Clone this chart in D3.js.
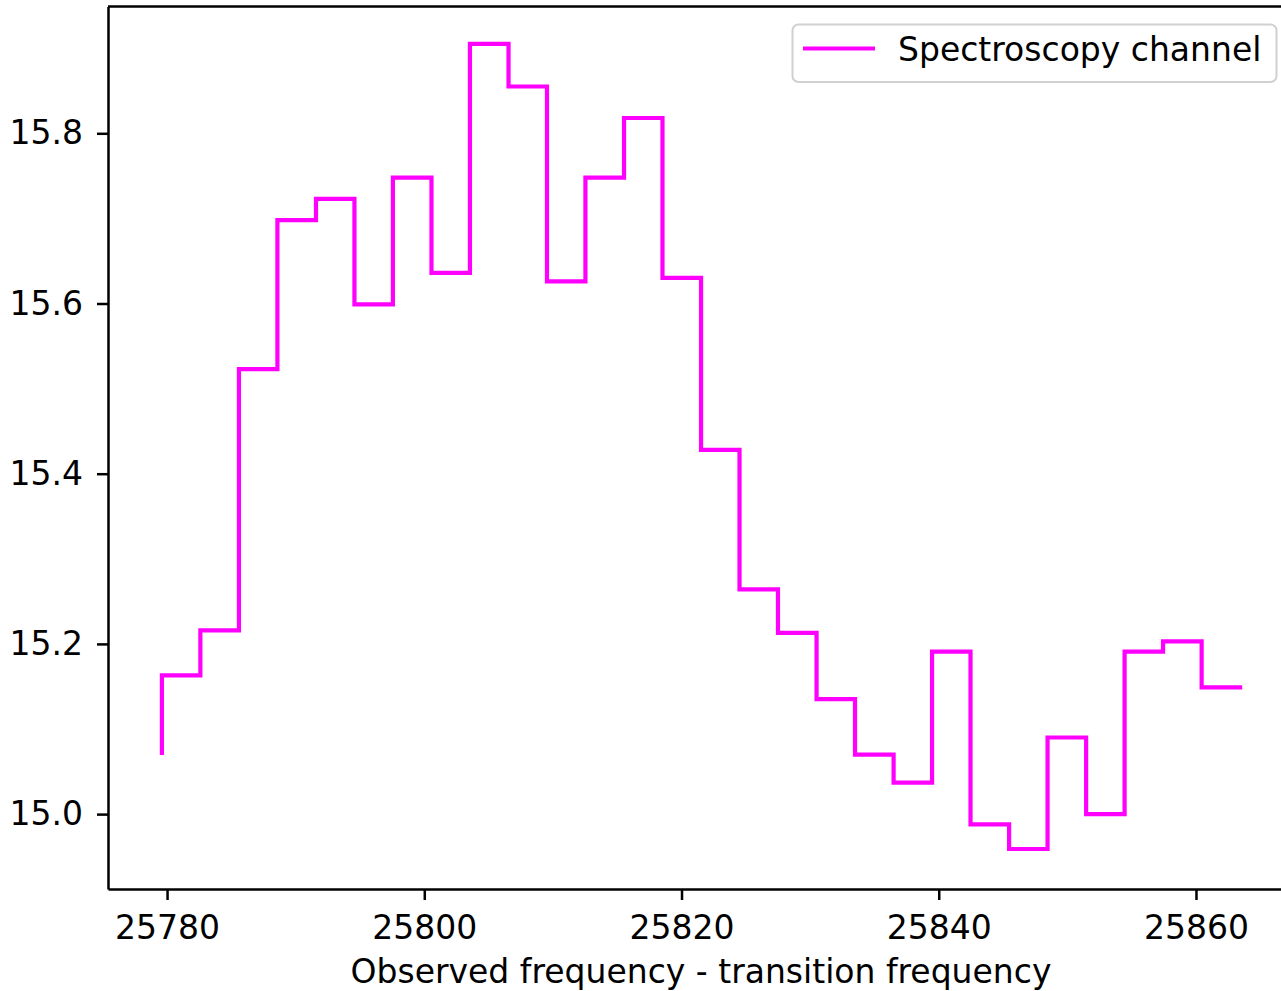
<!DOCTYPE html>
<html>
<head>
<meta charset="utf-8">
<script src="https://cdn.jsdelivr.net/npm/d3@7"></script>
<style>
  html, body { margin: 0; padding: 0; background: #fff; }
  svg { display: block; overflow: hidden; }
  text { font-family: "DejaVu Sans", sans-serif; }
</style>
</head>
<body>
<svg id="chart" width="1281" height="991"></svg>
<script>
// ---- data ----
const freq = [25779.60, 25782.59, 25785.59, 25788.58, 25791.58, 25794.57, 25797.56,
              25800.56, 25803.55, 25806.55, 25809.54, 25812.53, 25815.53, 25818.52,
              25821.52, 25824.51, 25827.50, 25830.50, 25833.49, 25836.49, 25839.48,
              25842.47, 25845.47, 25848.46, 25851.46, 25854.45, 25857.44, 25860.44,
              25863.43];
const signal = [15.072, 15.163, 15.216, 15.523, 15.698, 15.723, 15.599, 15.748,
                15.636, 15.905, 15.855, 15.626, 15.748, 15.818, 15.630, 15.428,
                15.264, 15.213, 15.135, 15.070, 15.037, 15.191, 14.988, 14.959,
                15.090, 15.000, 15.191, 15.203, 15.149];
const xTicks = [25780, 25800, 25820, 25840, 25860];
const yTicks = [15.0, 15.2, 15.4, 15.6, 15.8];
const yLimits = [14.912, 15.949];
const seriesName = "Spectroscopy channel";
const xLabel = "Observed frequency - transition frequency";

// ---- layout ----
const fontSize = 33;
const plot = { left: 108, right: 1294, top: 6.5, bottom: 889 };

function padded(ext) {
  const r = ext[1] - ext[0];
  return [ext[0] - 0.05 * r, ext[1] + 0.05 * r];
}

const x = d3.scaleLinear().domain(padded(d3.extent(freq))).range([plot.left, plot.right]);
const y = d3.scaleLinear().domain(yLimits).range([plot.bottom, plot.top]);

const svg = d3.select("#chart");

// step line (matplotlib drawstyle 'steps-pre')
const pts = freq.map((f, i) => [f, signal[i]]);
const line = d3.line().x(d => x(d[0])).y(d => y(d[1])).curve(d3.curveStepBefore);
svg.append("path")
  .datum(pts)
  .attr("d", line)
  .attr("fill", "none")
  .attr("stroke", "#ff00ff")
  .attr("stroke-width", 4.2)
  .attr("stroke-linejoin", "miter")
  .attr("stroke-linecap", "square");

// axes
const xAxis = d3.axisBottom(x).tickValues(xTicks).tickFormat(d3.format("d"))
  .tickSize(11).tickSizeOuter(0).tickPadding(15.5);
const yAxis = d3.axisLeft(y).tickValues(yTicks).tickFormat(d3.format(".1f"))
  .tickSize(11).tickSizeOuter(0).tickPadding(14);

const gx = svg.append("g").attr("transform", `translate(0,${plot.bottom})`).call(xAxis);
const gy = svg.append("g").attr("transform", `translate(${plot.left},0)`).call(yAxis);

[gx, gy].forEach(g => {
  g.select(".domain").attr("stroke", "#000").attr("stroke-width", 2.5);
  g.selectAll(".tick line").attr("stroke", "#000").attr("stroke-width", 2.5);
  g.selectAll(".tick text").attr("fill", "#000")
    .style("font-family", "'DejaVu Sans', sans-serif").style("font-size", fontSize + "px");
});

// top and right spines
svg.append("line").attr("x1", plot.left).attr("x2", plot.right)
  .attr("y1", plot.top).attr("y2", plot.top)
  .attr("stroke", "#000").attr("stroke-width", 2.5);
svg.append("line").attr("x1", plot.right).attr("x2", plot.right)
  .attr("y1", plot.top).attr("y2", plot.bottom)
  .attr("stroke", "#000").attr("stroke-width", 2.5);

// x label
svg.append("text")
  .attr("x", (plot.left + plot.right) / 2)
  .attr("y", 983)
  .attr("text-anchor", "middle")
  .attr("fill", "#000")
  .style("font-size", fontSize + "px")
  .text(xLabel);

// legend
const lg = svg.append("g");
lg.append("rect")
  .attr("x", 792.5).attr("y", 24.5).attr("width", 484).attr("height", 57.5)
  .attr("rx", 6).attr("ry", 6)
  .attr("fill", "#fff").attr("fill-opacity", 0.8)
  .attr("stroke", "#d0d0d0").attr("stroke-width", 2);
lg.append("line")
  .attr("x1", 803).attr("x2", 875).attr("y1", 48.5).attr("y2", 48.5)
  .attr("stroke", "#ff00ff").attr("stroke-width", 4.2);
lg.append("text")
  .attr("x", 898).attr("y", 61)
  .attr("fill", "#000")
  .style("font-size", fontSize + "px")
  .text(seriesName);
</script>
</body>
</html>
